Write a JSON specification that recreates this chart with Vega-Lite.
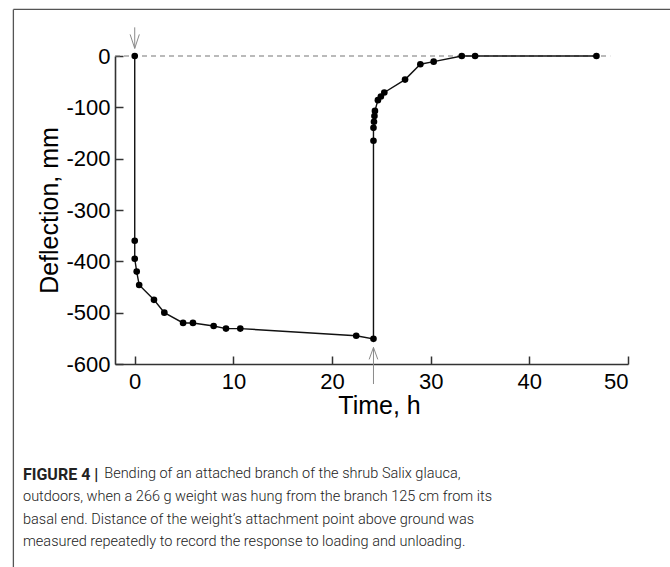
{
  "$schema": "https://vega.github.io/schema/vega-lite/v6.json",
  "width": 513,
  "height": 308,
  "autosize": {"type": "none"},
  "padding": {"left": 115, "top": 56, "right": 42, "bottom": 203},
  "background": "white",
  "config": {"view": {"stroke": null}, "font": "Liberation Sans"},
  "title": {
    "text": "FIGURE 4 |",
    "subtitle": [
      "\u200b\u00a0\u00a0\u00a0\u00a0\u00a0\u00a0\u00a0\u00a0\u00a0\u00a0\u00a0\u00a0\u00a0\u00a0\u00a0\u00a0\u00a0\u00a0\u00a0\u00a0\u00a0\u00a0\u00a0Bending of an attached branch of the shrub Salix glauca,",
      "outdoors, when a 266 g weight was hung from the branch 125 cm from its",
      "basal end. Distance of the weight’s attachment point above ground was",
      "measured repeatedly to record the response to loading and unloading."
    ],
    "orient": "bottom",
    "anchor": "start",
    "frame": "group",
    "dx": -92,
    "offset": -103,
    "font": "Roboto",
    "fontSize": 16,
    "fontWeight": "bold",
    "color": "#222222",
    "subtitleFont": "Roboto",
    "subtitleFontSize": 14.5,
    "subtitleFontWeight": 300,
    "subtitleColor": "#222222",
    "subtitleLineHeight": 22.8,
    "subtitlePadding": -16
  },
  "datasets": {
    "obs": [
      {"idx": 1, "t": 0, "d": 0},
      {"idx": 2, "t": 0, "d": -360},
      {"idx": 3, "t": 0, "d": -395},
      {"idx": 4, "t": 0.2, "d": -420},
      {"idx": 5, "t": 0.45, "d": -446},
      {"idx": 6, "t": 1.95, "d": -475},
      {"idx": 7, "t": 3.0, "d": -500},
      {"idx": 8, "t": 4.9, "d": -520},
      {"idx": 9, "t": 5.9, "d": -520},
      {"idx": 10, "t": 8.0, "d": -526},
      {"idx": 11, "t": 9.25, "d": -531},
      {"idx": 12, "t": 10.7, "d": -531},
      {"idx": 13, "t": 22.45, "d": -545},
      {"idx": 14, "t": 24.2, "d": -551},
      {"idx": 15, "t": 24.2, "d": -165},
      {"idx": 16, "t": 24.2, "d": -140},
      {"idx": 17, "t": 24.25, "d": -128},
      {"idx": 18, "t": 24.3, "d": -117},
      {"idx": 19, "t": 24.35, "d": -107},
      {"idx": 20, "t": 24.65, "d": -86},
      {"idx": 21, "t": 24.95, "d": -79},
      {"idx": 22, "t": 25.3, "d": -71},
      {"idx": 23, "t": 27.4, "d": -46},
      {"idx": 24, "t": 28.95, "d": -16},
      {"idx": 25, "t": 30.3, "d": -11},
      {"idx": 26, "t": 33.15, "d": 0},
      {"idx": 27, "t": 34.5, "d": 0},
      {"idx": 28, "t": 46.8, "d": 0}
    ],
    "frame": [
      {"x": -12.3, "x2": 56, "y": 90.8, "y2": 90.8},
      {"x": -12.3, "x2": -12.3, "y": 90.8, "y2": -1000}
    ],
    "zero": [{"x": -2, "x2": 48.2, "y": 0}],
    "stems": [
      {"x": 0, "y": 55.8, "y2": 14.8},
      {"x": 24.2, "y": -567.7, "y2": -639}
    ],
    "downTip": [{"x": 0, "y": 14.8}],
    "upTip": [{"x": 24.2, "y": -567.7}]
  },
  "layer": [
    {
      "data": {"name": "frame"},
      "mark": {"type": "rule", "color": "#555555", "strokeWidth": 1.3},
      "encoding": {
        "x": {
          "field": "x", "type": "quantitative",
          "scale": {"domain": [-2, 50], "nice": false, "zero": false},
          "axis": {
            "title": "Time, h", "values": [0, 10, 20, 30, 40, 50],
            "grid": false, "domainColor": "#333333", "domainWidth": 1.6,
            "tickColor": "#333333", "tickWidth": 1.5, "tickSize": -8,
            "labelPadding": 15, "labelFontSize": 22, "labelColor": "#000000",
            "labelFont": "Liberation Sans", "titleFont": "Liberation Sans",
            "titleFontSize": 25, "titleFontWeight": "normal", "titleColor": "#000000",
            "titlePadding": 1, "titleX": 264
          }
        },
        "x2": {"field": "x2"},
        "y": {
          "field": "y", "type": "quantitative",
          "scale": {"domain": [-600, 0], "nice": false, "zero": false},
          "axis": {
            "title": "Deflection, mm", "values": [-600, -500, -400, -300, -200, -100, 0],
            "labelExpr": "datum.value < 0 ? '-' + (-datum.value) : '' + datum.value",
            "grid": false, "domainColor": "#333333", "domainWidth": 1.6,
            "tickColor": "#333333", "tickWidth": 1.5, "tickSize": -8,
            "labelPadding": 13, "labelFontSize": 22, "labelColor": "#000000",
            "labelFont": "Liberation Sans", "titleFont": "Liberation Sans",
            "titleFontSize": 25, "titleFontWeight": "normal", "titleColor": "#000000",
            "titlePadding": 3
          }
        },
        "y2": {"field": "y2"}
      }
    },
    {
      "data": {"name": "zero"},
      "mark": {"type": "rule", "color": "#777777", "strokeWidth": 1.2, "strokeDash": [5, 4]},
      "encoding": {
        "x": {"field": "x", "type": "quantitative"},
        "x2": {"field": "x2"},
        "y": {"field": "y", "type": "quantitative"}
      }
    },
    {
      "data": {"name": "stems"},
      "mark": {"type": "rule", "color": "#8a8a8a", "strokeWidth": 1},
      "encoding": {
        "x": {"field": "x", "type": "quantitative"},
        "y": {"field": "y", "type": "quantitative"},
        "y2": {"field": "y2"}
      }
    },
    {
      "data": {"name": "downTip"},
      "mark": {"type": "point", "shape": "M-0.33,-1L0,0L0.33,-1", "filled": false, "stroke": "#8a8a8a", "strokeWidth": 1, "size": 784, "opacity": 1},
      "encoding": {
        "x": {"field": "x", "type": "quantitative"},
        "y": {"field": "y", "type": "quantitative"}
      }
    },
    {
      "data": {"name": "upTip"},
      "mark": {"type": "point", "shape": "M-0.36,1L0,0L0.36,1", "filled": false, "stroke": "#8a8a8a", "strokeWidth": 1, "size": 576, "opacity": 1},
      "encoding": {
        "x": {"field": "x", "type": "quantitative"},
        "y": {"field": "y", "type": "quantitative"}
      }
    },
    {
      "data": {"name": "obs"},
      "mark": {"type": "line", "color": "#111111", "strokeWidth": 1.4},
      "encoding": {
        "x": {"field": "t", "type": "quantitative"},
        "y": {"field": "d", "type": "quantitative"},
        "order": {"field": "idx", "type": "quantitative"}
      }
    },
    {
      "data": {"name": "obs"},
      "mark": {"type": "point", "filled": true, "color": "#000000", "size": 44, "opacity": 1},
      "encoding": {
        "x": {"field": "t", "type": "quantitative"},
        "y": {"field": "d", "type": "quantitative"}
      }
    }
  ]
}
